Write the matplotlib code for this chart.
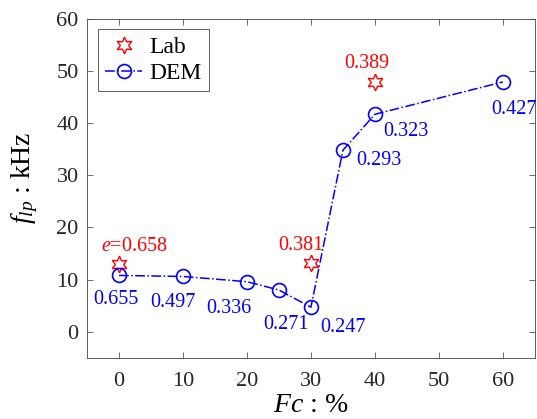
import matplotlib.pyplot as plt
import matplotlib

matplotlib.rcParams['font.family'] = ['Liberation Serif', 'DejaVu Serif']
matplotlib.rcParams['mathtext.fontset'] = 'custom'
matplotlib.rcParams['mathtext.it'] = 'Liberation Serif:italic'
matplotlib.rcParams['mathtext.rm'] = 'Liberation Serif'

# === データ ===
fc_dem = [0, 10, 20, 25, 30, 35, 40, 60]
flp_dem = [10.8, 10.6, 9.6, 8.0, 4.7, 34.8, 41.7, 47.9]
e_dem = ['0.655', '0.497', '0.336', '0.271', '0.247', '0.293', '0.323', '0.427']

fc_lab = [0, 30, 40]
flp_lab = [13.0, 13.2, 47.8]
e_lab = ['$e$=0.658', '0.381', '0.389']

# ラベルのずらし量（points）
dem_offsets = [(-2, -17.5), (-7, -18.5), (-13, -19.5), (5, -24.5), (23, -14.5), (26, -7.5), (22, -12.5), (8, -19.5)]
lab_offsets = [(11, 12.5), (-7, 12.5), (-6, 13.5)]

fig = plt.figure(figsize=(5.37, 4.19), dpi=100)
ax = fig.add_axes([0.162, 0.146, 0.834, 0.809])

hexagram = (6, 1, 0)
ax.plot(fc_lab, flp_lab, linestyle='none', marker=hexagram, markersize=12,
        markerfacecolor='none', markeredgecolor='red', markeredgewidth=1.0, label='Lab')
ax.plot(fc_dem, flp_dem, linestyle='-.', color='blue', linewidth=1.1, marker='o',
        markersize=10, markerfacecolor='none', markeredgewidth=1.2, label='DEM')

for x, y, t, off in zip(fc_dem, flp_dem, e_dem, dem_offsets):
    ax.annotate(t, (x, y), xytext=off, textcoords='offset points', color='blue',
                fontsize=14.5, ha='center', va='center', annotation_clip=False)
for x, y, t, off in zip(fc_lab, flp_lab, e_lab, lab_offsets):
    ax.annotate(t, (x, y), xytext=off, textcoords='offset points', color='red',
                fontsize=14.5, ha='center', va='center', annotation_clip=False)

ax.set_xlim(-5, 65)
ax.set_ylim(-5, 60)
ax.set_xticks(range(0, 61, 10))
ax.set_yticks(range(0, 61, 10))
ax.tick_params(direction='in', top=True, right=True, labelsize=16, colors='#555555',
               labelcolor='#262626', length=4, width=0.6)
ax.tick_params(axis='x', pad=10)
ax.tick_params(axis='y', pad=6)
for s in ax.spines.values():
    s.set_color('#444444')
    s.set_linewidth(0.6)

ax.set_xlabel('$Fc$ : %', fontsize=20, labelpad=2)
ax.set_ylabel('$f_{lp}$ : kHz', fontsize=20)
ax.yaxis.set_label_coords(-0.105, 0.53)

leg = ax.legend(loc='upper left', fontsize=17, fancybox=False, edgecolor='#444444',
                framealpha=1, borderaxespad=0.45, handlelength=1.6, handletextpad=0.3,
                borderpad=0.3, labelspacing=0.18)
leg.get_frame().set_linewidth(0.6)

plt.savefig('out.png', dpi=100)
